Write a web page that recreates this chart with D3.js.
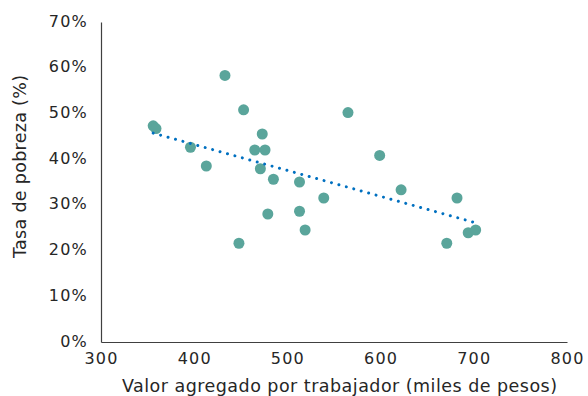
<!DOCTYPE html>
<html>
<head>
<meta charset="utf-8">
<script src="https://cdn.jsdelivr.net/npm/d3@7"></script>
<style>
  html, body { margin: 0; padding: 0; background: #fff; }
  svg { display: block; font-family: "DejaVu Sans", sans-serif; }
  .tick text { fill: #262626; font-size: 16px; letter-spacing: 1.2px; }
</style>
</head>
<body>
<svg id="chart" width="588" height="396"></svg>
<script>
// Value added per worker (thousand pesos) and poverty rate (%) by region
const valorAgregado = [356, 359, 433, 453, 473, 465, 476, 396, 413, 471, 485, 479,
                       448, 565, 599, 513, 539, 622, 513, 519, 682, 671, 694, 702];
const tasaPobreza   = [47.3, 46.7, 58.3, 50.8, 45.5, 42.0, 42.0, 42.6, 38.5, 37.9, 35.6, 28.0,
                       21.6, 50.2, 40.8, 35.0, 31.5, 33.3, 28.6, 24.5, 31.5, 21.6, 23.9, 24.5];
const xTicks = [300, 400, 500, 600, 700, 800];
const yTicks = [0, 10, 20, 30, 40, 50, 60, 70];

const margin = { left: 101, right: 21, top: 22, bottom: 54 };
const W = 588, H = 396;
const svg = d3.select("#chart");

const x = d3.scaleLinear().domain([300, 800]).range([margin.left, W - margin.right]);
const y = d3.scaleLinear().domain([0, 70]).range([H - margin.bottom, margin.top]);

// Axes: plain lines with labels, no tick marks
const xAxis = svg.append("g")
  .attr("transform", `translate(0,${y(0)})`)
  .call(d3.axisBottom(x).tickValues(xTicks).tickSize(0).tickPadding(11));
const yAxis = svg.append("g")
  .attr("transform", `translate(${x(300)},0)`)
  .call(d3.axisLeft(y).tickValues(yTicks).tickSize(0).tickPadding(13)
        .tickFormat(d => d + "%"));
[xAxis, yAxis].forEach(g => {
  g.select(".domain").attr("stroke", "#404040").attr("stroke-width", 1.2);
  g.selectAll("text").attr("font-family", "DejaVu Sans");
});
yAxis.selectAll("text").attr("dy", "0.25em");

// Least-squares trend line over the observed range
const pts = valorAgregado.map((v, i) => [v, tasaPobreza[i]]);
const mx = d3.mean(valorAgregado), my = d3.mean(tasaPobreza);
const slope = d3.sum(pts, p => (p[0] - mx) * (p[1] - my)) / d3.sum(pts, p => (p[0] - mx) ** 2);
const intercept = my - slope * mx;
const [x0, x1] = d3.extent(valorAgregado);

// Scatter points
svg.append("g")
  .selectAll("circle")
  .data(pts)
  .join("circle")
  .attr("cx", d => x(d[0]))
  .attr("cy", d => y(d[1]))
  .attr("r", 5.5)
  .attr("fill", "#5aa59b");

svg.append("line")
  .attr("x1", x(x0)).attr("y1", y(intercept + slope * x0))
  .attr("x2", x(x1)).attr("y2", y(intercept + slope * x1))
  .attr("stroke", "#0070c0")
  .attr("stroke-width", 3)
  .attr("stroke-linecap", "round")
  .attr("stroke-dasharray", "0.01 7.7");

// Axis titles
svg.append("text")
  .attr("x", 339.5).attr("y", 392)
  .attr("text-anchor", "middle")
  .attr("fill", "#262626")
  .attr("font-size", 17.5)
  .attr("textLength", 435)
  .attr("lengthAdjust", "spacing")
  .text("Valor agregado por trabajador (miles de pesos)");

svg.append("text")
  .attr("transform", "translate(25.5,166.5) rotate(-90)")
  .attr("text-anchor", "middle")
  .attr("fill", "#262626")
  .attr("font-size", 17.5)
  .attr("textLength", 183)
  .attr("lengthAdjust", "spacing")
  .text("Tasa de pobreza (%)");
</script>
</body>
</html>
